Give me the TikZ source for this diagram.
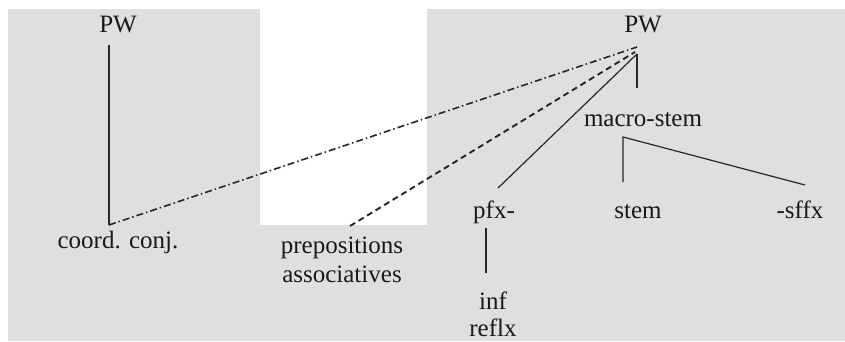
\documentclass[tikz,border=0pt]{standalone}
\usepackage{fontspec}
\setmainfont{Liberation Serif}
\begin{document}
\begin{tikzpicture}[x=1pt,y=-1pt,
  lbl/.style={inner sep=0pt,anchor=base,font=\fontsize{25}{30}\selectfont,text=black!90},
  branch/.style={line width=1.2pt,black!85},
  dashbranch/.style={line width=1.9pt,black!85,dash pattern=on 6pt off 4pt},
  dotdash/.style={line width=1.6pt,black!85,dash pattern=on 7pt off 3pt on 1.5pt off 3pt}]
\definecolor{panel}{HTML}{DFDFDF}
\useasboundingbox (0,0) rectangle (845,341);
% grey panel with the white window left open
\fill[panel] (8,9) rectangle (845,341);
\fill[white] (260,0) rectangle (427,225);

% labels
\node[lbl] (pwL) at (118,32) {PW};
\node[lbl] (pwR) at (643,32) {PW};
\node[lbl] (ms) at (643,126) {macro-stem};
\node[lbl] (pfx) at (494,218) {pfx-};
\node[lbl] (stem) at (638,218) {stem};
\node[lbl] (sffx) at (800,218) {-sffx};
\node[lbl] (inf) at (493,309) {inf};
\node[lbl] (reflx) at (493,336) {reflx};
\node[lbl] (cc) at (118,248) {coord. conj.};
\node[lbl] (prep) at (342,253) {prepositions};
\node[lbl] (assoc) at (342,282) {associatives};

% attachment points
\coordinate (pwLb) at (109,45);
\coordinate (ccT) at (109,225);
\coordinate (prepT) at (350,226);
\coordinate (pwRa) at (637,47);
\coordinate (pwRb) at (635,52);
\coordinate (pwRc) at (637,54);
\coordinate (msT) at (637,88);
\coordinate (pfxT) at (498,188);
\coordinate (msB) at (623,137);
\coordinate (stemT) at (623,182);
\coordinate (sffxT) at (805,185);
\coordinate (pfxB) at (486,228);
\coordinate (infT) at (486,273);

% connectors
\draw[branch] (pwLb) -- (ccT);
\draw[dotdash] (ccT) -- (pwRa);
\draw[dashbranch] (prepT) -- (pwRb);
\draw[branch] (pfxT) -- (pwRc);
\draw[branch] (pwRc) -- (msT);
\draw[branch] (stemT) -- (msB) -- (sffxT);
\draw[branch] (pfxB) -- (infT);
\end{tikzpicture}
\end{document}
